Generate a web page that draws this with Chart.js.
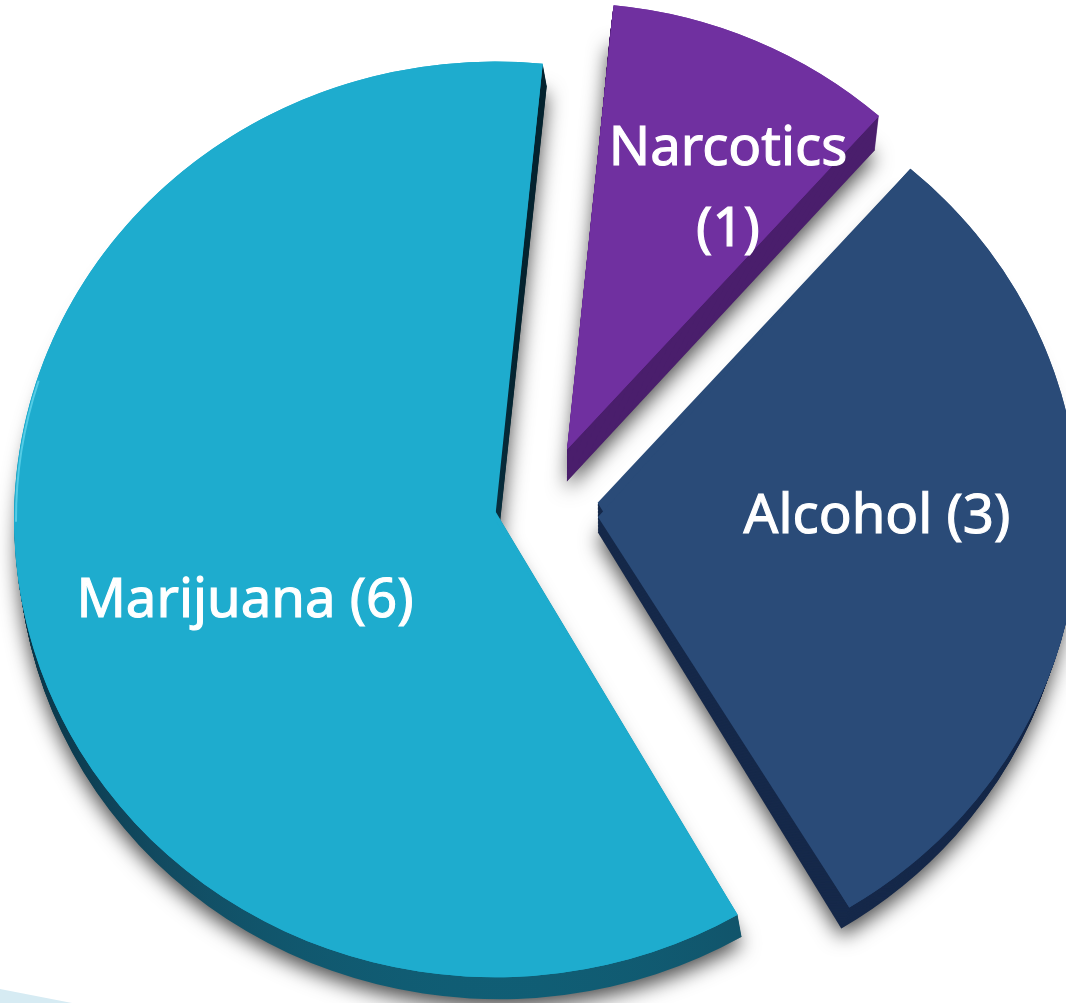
<!DOCTYPE html>
<html>
<head>
<meta charset="utf-8">
<title>Substances</title>
<script src="https://cdn.jsdelivr.net/npm/chart.js@4"></script>
<style>
  html, body { margin: 0; padding: 0; background: #fff; }
  #wrap { position: relative; width: 1066px; height: 1003px; overflow: hidden; }
  #ribbon { position: absolute; left: 0; bottom: 0; width: 72px; height: 14px; background: #d6ebf3; clip-path: polygon(0 0, 100% 100%, 0 100%); }
  canvas { position: absolute; left: 0; top: 0; }
</style>
</head>
<body>
<div id="wrap">
  <div id="ribbon"></div>
  <canvas id="pie" width="1066" height="1003"></canvas>
</div>
<script>
// data
const categories = ['Narcotics', 'Alcohol', 'Marijuana'];
const counts = [1, 3, 6];
const labelLines = [['Narcotics', '(1)'], ['Alcohol (3)'], ['Marijuana (6)']];

// look
const faceColors = ['#7030a0', '#2a4b78', '#1eacce'];
const sideColors = ['#4a1e6c', '#16294a', null];
const explode = [[16, -51], [47, 20], [-56, 22.5]]; // slice shift from pie centre
const apexLift = [0, 15, 9.5];                      // apex sits above the ellipse centre (perspective)
const turn = [-0.3, -1.5, -0.3];                    // degrees
const extrude = [[-4, 34], [-8, 21], [4, 22]];      // depth of each slice
const apexDrop = [[4, -2], [8, 9], [0, 0]];         // apex of the side is deeper than the rim
const faceScale = [0.975, 1, 1];
const labelOffset = [[161, -284], [279, 16], [-250, 98]]; // from slice centre, baseline
const tilt = 0.952;

const fakePie3d = {
  id: 'fakePie3d',
  beforeDatasetDraw(chart, args) {
    const ctx = chart.ctx;
    const arcs = args.meta.data;
    const cy = arcs[0].y;

    const slice = (i, ox, oy, fn) => {
      const a = arcs[i];
      ctx.save();
      ctx.translate(ox, oy);
      ctx.translate(0, cy);
      ctx.scale(1, tilt);
      ctx.translate(0, -cy);
      ctx.translate(explode[i][0], explode[i][1]);
      ctx.translate(a.x, a.y);
      ctx.scale(faceScale[i], faceScale[i]);
      ctx.rotate(turn[i] * Math.PI / 180);
      ctx.translate(-a.x, -a.y);
      fn(a);
      ctx.restore();
    };
    const path = (a, i, t) => {
      ctx.beginPath();
      ctx.moveTo(a.x + apexDrop[i][0] * t, a.y - apexLift[i] + apexDrop[i][1] * t);
      ctx.arc(a.x, a.y, a.outerRadius, a.startAngle, a.endAngle);
      ctx.closePath();
    };

    // marijuana side goes from almost black at the top to teal at the front
    const tealSide = ctx.createLinearGradient(0, 300, 0, 990);
    tealSide.addColorStop(0, '#04222e');
    tealSide.addColorStop(0.6, '#0c3c50');
    tealSide.addColorStop(0.8, '#124c62');
    tealSide.addColorStop(1, '#105f76');

    // soft drop shadow
    arcs.forEach((_, i) => {
      slice(i, extrude[i][0], extrude[i][1], (a) => {
        ctx.shadowColor = 'rgba(0,0,0,0.7)';
        ctx.shadowBlur = 20;
        ctx.shadowOffsetX = 0;
        ctx.shadowOffsetY = 8;
        ctx.fillStyle = '#777';
        path(a, i, 1);
        ctx.fill();
      });
    });

    // sides, then the faces through the library's own arc
    arcs.forEach((_, i) => {
      const steps = Math.abs(extrude[i][1]);
      for (let s = steps; s > 0; s--) {
        const t = s / steps;
        slice(i, extrude[i][0] * t, extrude[i][1] * t, (a) => {
          ctx.fillStyle = sideColors[i] || tealSide;
          path(a, i, t);
          ctx.fill();
        });
      }
      slice(i, 0, 0, (a) => {
        ctx.fillStyle = faceColors[i];
        path(a, i, 0);
        ctx.fill();
        a.draw(ctx);
      });
    });

    // pale rim on the left of the big slice
    slice(2, 0, 0, (a) => {
      ctx.beginPath();
      ctx.arc(a.x, a.y, a.outerRadius - 2, Math.PI * 1.0, Math.PI * 1.1);
      ctx.strokeStyle = 'rgba(120,225,245,0.6)';
      ctx.lineWidth = 2;
      ctx.stroke();
    });

    // labels
    ctx.save();
    ctx.fillStyle = '#fff';
    ctx.strokeStyle = '#fff';
    ctx.lineWidth = 1.1;
    ctx.textAlign = 'center';
    ctx.textBaseline = 'alphabetic';
    ctx.font = '54.5px "Noto Sans"';
    arcs.forEach((a, i) => {
      const ax = a.x + explode[i][0];
      const ay = cy + (a.y + explode[i][1] - cy) * tilt;
      labelLines[i].forEach((line, n) => {
        const x = ax + labelOffset[i][0];
        const y = ay + labelOffset[i][1] + n * 81;
        ctx.fillText(line, x, y);
        ctx.strokeText(line, x, y);
      });
    });
    ctx.restore();
    return false;
  }
};

new Chart(document.getElementById('pie').getContext('2d'), {
  type: 'pie',
  data: {
    labels: categories,
    datasets: [{ data: counts, backgroundColor: faceColors, borderWidth: 0 }]
  },
  options: {
    responsive: false,
    animation: false,
    rotation: 6,
    radius: 481,
    layout: { padding: { left: 36, bottom: 7 } },
    plugins: { legend: { display: false }, tooltip: { enabled: false } }
  },
  plugins: [fakePie3d]
});
</script>
</body>
</html>
